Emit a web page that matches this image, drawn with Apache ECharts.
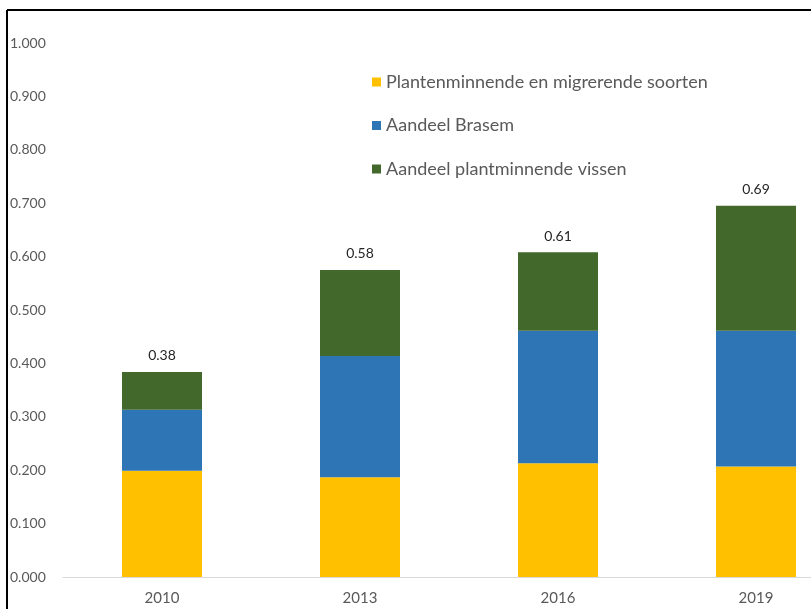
<!DOCTYPE html>
<html>
<head>
<meta charset="utf-8">
<script src="https://cdn.jsdelivr.net/npm/echarts@6/dist/echarts.min.js"></script>
<style>html,body{margin:0;padding:0;background:#fff;overflow:hidden;width:811px;height:609px}#c{width:855px;height:609px}</style>
</head>
<body>
<div id="c"></div>
<script>
const categories = ['2010', '2013', '2016', '2019'];
const seriesNames = ['Plantenminnende en migrerende soorten', 'Aandeel Brasem', 'Aandeel plantminnende vissen'];
const yellowValues = [0.199, 0.187, 0.213, 0.207];
const blueValues = [0.114, 0.227, 0.248, 0.254];
const greenValues = [0.071, 0.161, 0.147, 0.234];
const totalLabels = ['0.38', '0.58', '0.61', '0.69'];

const chart = echarts.init(document.getElementById('c'));
const font = 'Lato, "Open Sans", sans-serif';
chart.setOption({
  animation: false,
  color: ['#FFC000', '#2E75B6', '#43682B'],
  graphic: [
    {type: 'line', shape: {x1: 7, y1: 10, x2: 855, y2: 10}, style: {stroke: '#000', lineWidth: 2}},
    {type: 'line', shape: {x1: 7, y1: 10, x2: 7, y2: 609}, style: {stroke: '#000', lineWidth: 2}}
  ],
  legend: {
    orient: 'vertical',
    left: 367,
    top: 66,
    icon: 'rect',
    itemWidth: 9,
    itemHeight: 9,
    itemGap: 21.5,
    textStyle: {fontFamily: font, fontSize: 18, color: '#595959', lineHeight: 22},
    data: seriesNames
  },
  grid: {left: 63, top: 43, bottom: 32, right: 0, containLabel: false},
  xAxis: {
    type: 'category',
    data: categories,
    axisLine: {lineStyle: {color: '#D9D9D9'}},
    axisTick: {show: false},
    axisLabel: {fontFamily: font, fontSize: 15, color: '#595959', margin: 14}
  },
  yAxis: {
    type: 'value',
    min: 0,
    max: 1,
    interval: 0.1,
    splitLine: {show: false},
    axisLine: {show: false},
    axisTick: {show: false},
    axisLabel: {
      fontFamily: font, fontSize: 14, color: '#595959', align: 'left', margin: 53,
      formatter: v => v.toFixed(3)
    }
  },
  series: [
    {name: seriesNames[0], type: 'bar', stack: 'a', barWidth: 80, data: yellowValues},
    {name: seriesNames[1], type: 'bar', stack: 'a', barWidth: 80, data: blueValues},
    {name: seriesNames[2], type: 'bar', stack: 'a', barWidth: 80, data: greenValues,
      label: {show: true, position: 'top', distance: 9, fontFamily: font, fontSize: 14, color: '#262626',
        formatter: p => totalLabels[p.dataIndex]}}
  ]
});
</script>
</body>
</html>
